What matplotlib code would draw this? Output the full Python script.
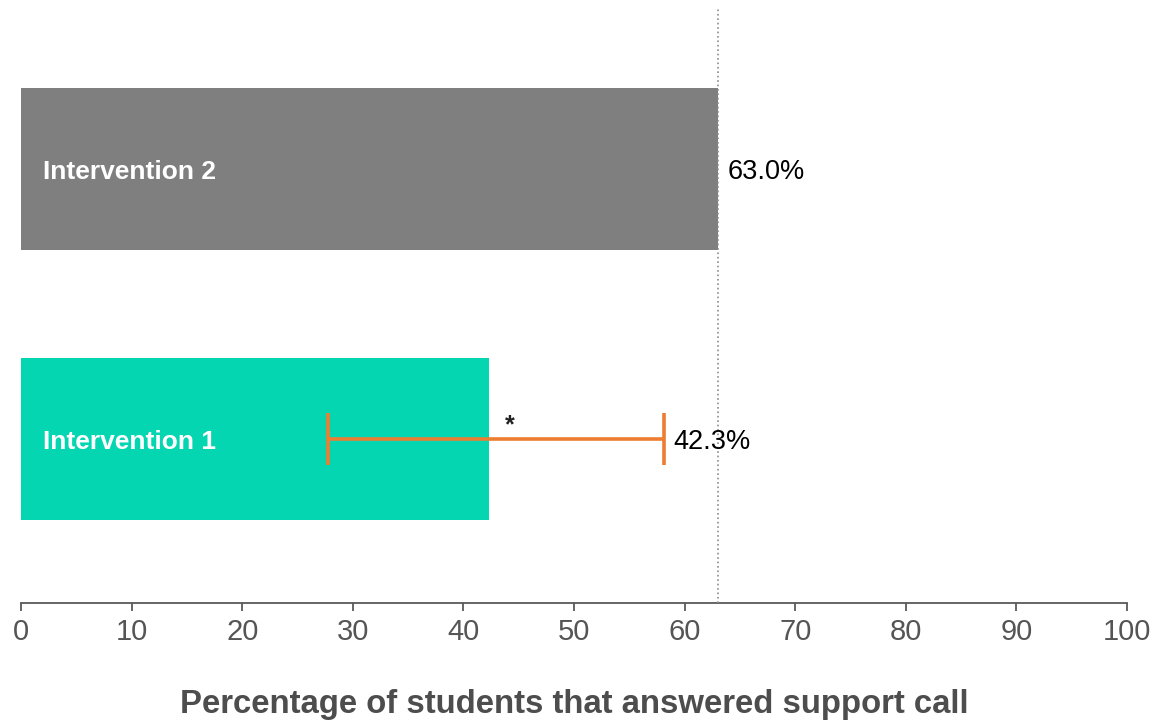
import matplotlib
matplotlib.use("Agg")
import matplotlib.pyplot as plt

# data
groups = ["Intervention 1", "Intervention 2"]
values = [42.3, 63.0]
bar_colors = ["#04D6B1", "#7F7F7F"]
err_low = [27.8, None]
err_high = [58.1, None]
ref_line = 63.0
value_labels = ["42.3%", "63.0%"]
xticks = [0, 10, 20, 30, 40, 50, 60, 70, 80, 90, 100]

plt.rcParams["font.family"] = ["Liberation Sans", "DejaVu Sans"]

W, H = 1169, 721
fig = plt.figure(figsize=(W / 100, H / 100), dpi=100)
ax = fig.add_axes([21 / W, (H - 603) / H, (1127 - 21) / W, (603 - 8) / H])

ypos = list(range(len(groups)))
ax.barh(ypos, values, height=0.6, color=bar_colors, zorder=2)

# error bar on intervention 1 only
for y, v, lo, hi in zip(ypos, values, err_low, err_high):
    if lo is None:
        continue
    ax.errorbar(v, y, xerr=[[v - lo], [hi - v]], fmt="none", ecolor="#ED7D31",
                elinewidth=2.6, capsize=19, capthick=2.6, zorder=4)
    ax.text(44.2, y + 0.005, "*", fontsize=18, fontweight="bold", ha="center", va="bottom",
            color="#222222", zorder=5)

# reference line at the intervention 2 value
ax.axvline(ref_line, color="#8c8c8c", linestyle=":", linewidth=1.2, zorder=3)

# labels inside and after the bars
for y, v, g, lab, hi in zip(ypos, values, groups, value_labels, err_high):
    ax.text(2.0, y - 0.012, g, color="white", fontsize=19, fontweight="bold", va="center", ha="left", zorder=5)
    end = v if hi is None else max(v, hi)
    ax.text(end + 0.85, y - 0.012, lab, color="black", fontsize=19.5, va="center", ha="left", zorder=5)

ax.set_xlim(0, 100)
ax.set_ylim(-0.607, 1.596)
ax.set_xticks(xticks)
ax.set_xticklabels([str(t) for t in xticks], fontsize=21, color="#555555")
ax.set_yticks([])
for s in ["top", "right", "left"]:
    ax.spines[s].set_visible(False)
ax.spines["bottom"].set_color("#595959")
ax.spines["bottom"].set_linewidth(1.3)
ax.tick_params(axis="x", direction="out", length=6, width=1.3, color="#595959", pad=5)

ax.set_xlabel("Percentage of students that answered support call", fontsize=23.7,
              fontweight="bold", color="#4d4d4d", labelpad=31)

fig.savefig("out.png", dpi=100)
